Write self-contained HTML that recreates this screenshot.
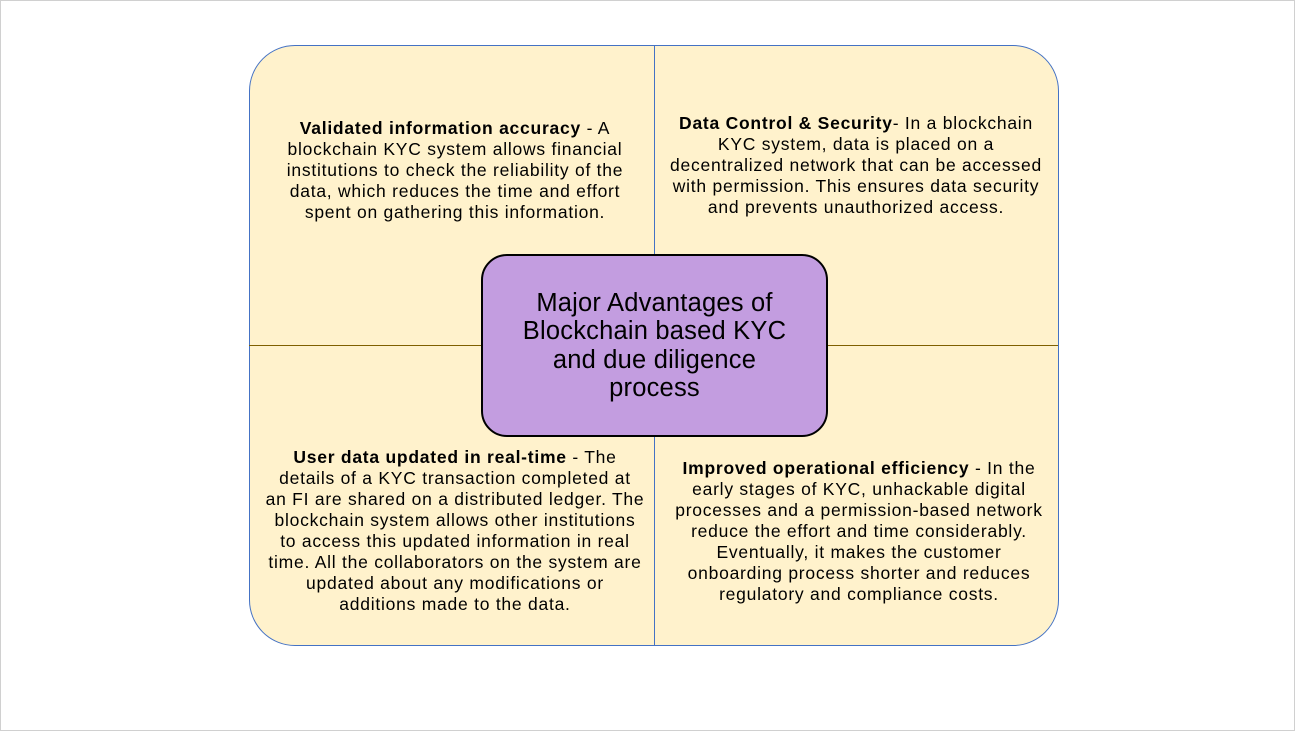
<!DOCTYPE html>
<html><head><style>
html,body{margin:0;padding:0}
body{width:1295px;height:731px;position:relative;background:#fff;font-family:"Liberation Sans",sans-serif;overflow:hidden}
.frame{position:absolute;left:0;top:0;width:1293px;height:729px;border:1px solid #d0d0d0}
.outer{position:absolute;left:249px;top:45px;width:808px;height:599px;background:#fff2cc;border:1px solid #4472c4;border-radius:46px}
.v{position:absolute;left:654px;top:45px;width:1px;height:600px;background:#4472c4}
.h{position:absolute;left:249px;top:345px;width:809px;height:1px;background:#7f6000}
.t{position:absolute;text-align:center;white-space:nowrap;font-size:17.5px;letter-spacing:0.75px;line-height:21px;color:#000;transform:translateX(-50%)}
.center{position:absolute;left:481px;top:254px;width:343px;height:179px;background:#c39de0;border:2px solid #000;border-radius:26px;display:flex;align-items:center;justify-content:center;text-align:center;font-size:25.5px;line-height:28.5px;letter-spacing:0.2px}
</style></head><body>
<div class="frame"></div>
<div class="outer"></div>
<div class="v"></div>
<div class="h"></div>
<div class="t" style="left:455px;top:118px"><b>Validated information accuracy</b> - A<br>blockchain KYC system allows financial<br>institutions to check the reliability of the<br>data, which reduces the time and effort<br>spent on gathering this information.</div>
<div class="t" style="left:856px;top:113px"><b>Data Control &amp; Security</b>- In a blockchain<br>KYC system, data is placed on a<br>decentralized network that can be accessed<br>with permission. This ensures data security<br>and prevents unauthorized access.</div>
<div class="t" style="left:455px;top:447px"><b>User data updated in real-time</b> - The<br>details of a KYC transaction completed at<br>an FI are shared on a distributed ledger. The<br>blockchain system allows other institutions<br>to access this updated information in real<br>time. All the collaborators on the system are<br>updated about any modifications or<br>additions made to the data.</div>
<div class="t" style="left:859px;top:458px"><b>Improved operational efficiency</b> - In the<br>early stages of KYC, unhackable digital<br>processes and a permission-based network<br>reduce the effort and time considerably.<br>Eventually, it makes the customer<br>onboarding process shorter and reduces<br>regulatory and compliance costs.</div>
<div class="center"><div>Major Advantages of<br>Blockchain based KYC<br>and due diligence<br>process</div></div>
</body></html>
